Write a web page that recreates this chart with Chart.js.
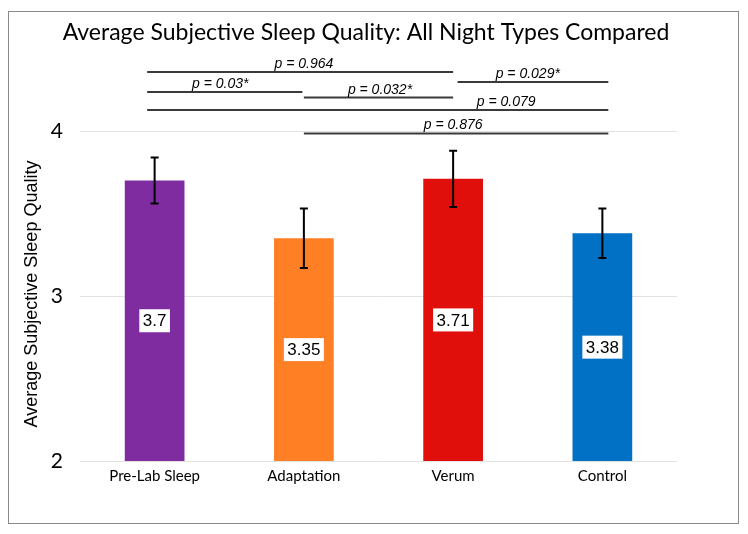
<!DOCTYPE html>
<html>
<head>
<meta charset="utf-8">
<script src="https://cdn.jsdelivr.net/npm/chart.js@4.4.0/dist/chart.umd.min.js"></script>
<style>
  html, body { margin: 0; padding: 0; background: #fff; }
  #wrap { position: relative; width: 748px; height: 534px; }
</style>
</head>
<body>
<div id="wrap"><canvas id="sleepChart" width="748" height="534"></canvas></div>
<script>
const chartTitle = 'Average Subjective Sleep Quality: All Night Types Compared';
const axisTitle = 'Average Subjective Sleep Quality';
const nightTypes = ['Pre-Lab Sleep', 'Adaptation', 'Verum', 'Control'];
const meanQuality = [3.70, 3.35, 3.71, 3.38];
const errorMargin = [0.14, 0.18, 0.17, 0.15];
const valueLabels = ['3.7', '3.35', '3.71', '3.38'];
const barColors = ['#7F2CA0', '#FE7F24', '#E00F0B', '#0071C5'];
const yTicks = [2, 3, 4];

// significance brackets: from/to/text in category positions, level in quality units
const pLabels = ['p = 0.964', 'p = 0.03*', 'p = 0.029*', 'p = 0.032*', 'p = 0.079', 'p = 0.876'];
const pFrom = [-0.05, -0.05, 2.03, 1.0, -0.05, 1.0];
const pTo = [2.0, 0.99, 3.04, 2.0, 3.04, 3.04];
const pLevel = [4.358, 4.236, 4.297, 4.203, 4.127, 3.985];
const pTextAt = [1.0, 0.44, 2.5, 1.51, 2.355, 2.0];

const overlay = {
    id: 'overlay',
    beforeDraw(chart) {
        const ctx = chart.ctx;
        ctx.save();
        ctx.strokeStyle = '#8a8a8a';
        ctx.lineWidth = 1;
        ctx.strokeRect(8.5, 11.5, 730, 512);
        ctx.restore();
    },
    afterDatasetsDraw(chart) {
        const ctx = chart.ctx;
        const y = chart.scales.y;
        const bars = chart.getDatasetMeta(0).data;
        const base = y.getPixelForValue(y.min);
        ctx.save();

        // error bars
        ctx.strokeStyle = '#000';
        ctx.lineWidth = 2;
        bars.forEach((bar, i) => {
            const top = y.getPixelForValue(meanQuality[i] + errorMargin[i]);
            const bottom = y.getPixelForValue(meanQuality[i] - errorMargin[i]);
            ctx.beginPath();
            ctx.moveTo(bar.x, top);
            ctx.lineTo(bar.x, bottom);
            ctx.moveTo(bar.x - 4, top);
            ctx.lineTo(bar.x + 4, top);
            ctx.moveTo(bar.x - 4, bottom);
            ctx.lineTo(bar.x + 4, bottom);
            ctx.stroke();
        });

        // value labels in the middle of the visible bar
        ctx.font = '17px "Liberation Sans", Arial, sans-serif';
        ctx.textAlign = 'center';
        ctx.textBaseline = 'middle';
        bars.forEach((bar, i) => {
            const cy = (bar.y + base) / 2;
            const w = ctx.measureText(valueLabels[i]).width + 7;
            ctx.fillStyle = '#fff';
            ctx.fillRect(bar.x - w / 2, cy - 11.5, w, 23);
            ctx.fillStyle = '#000';
            ctx.fillText(valueLabels[i], bar.x, cy + 1);
        });
        ctx.restore();
    },
    afterDraw(chart) {
        const ctx = chart.ctx;
        const x = chart.scales.x;
        const y = chart.scales.y;
        const x0 = x.getPixelForValue(0);
        const step = x.getPixelForValue(1) - x0;
        const catX = (pos) => x0 + pos * step;
        ctx.save();

        // chart title
        ctx.fillStyle = '#000';
        ctx.font = '23px Lato, sans-serif';
        ctx.textAlign = 'center';
        ctx.textBaseline = 'middle';
        ctx.fillText(chartTitle, 366, 33);

        // y axis title
        ctx.save();
        ctx.translate(32, (y.getPixelForValue(yTicks[0]) + y.getPixelForValue(yTicks[yTicks.length - 1])) / 2 - 2);
        ctx.rotate(-Math.PI / 2);
        ctx.font = '18px "Liberation Sans", Arial, sans-serif';
        ctx.fillText(axisTitle, 0, 0);
        ctx.restore();

        // significance brackets
        ctx.strokeStyle = '#3a3a3a';
        ctx.lineWidth = 2;
        ctx.font = 'italic 14px "Liberation Sans", Arial, sans-serif';
        ctx.textBaseline = 'alphabetic';
        pLabels.forEach((label, i) => {
            const ly = y.getPixelForValue(pLevel[i]);
            ctx.beginPath();
            ctx.moveTo(catX(pFrom[i]), ly);
            ctx.lineTo(catX(pTo[i]), ly);
            ctx.stroke();
            ctx.fillText(label, catX(pTextAt[i]), ly - 4);
        });
        ctx.restore();
    }
};

new Chart(document.getElementById('sleepChart').getContext('2d'), {
    type: 'bar',
    data: {
        labels: nightTypes,
        datasets: [{
            data: meanQuality,
            backgroundColor: barColors,
            borderWidth: 0,
            barPercentage: 0.4,
            categoryPercentage: 1.0
        }]
    },
    options: {
        responsive: false,
        animation: false,
        layout: {
            padding: { left: 22, right: 71, top: 131, bottom: 0 }
        },
        plugins: {
            legend: { display: false },
            tooltip: { enabled: false }
        },
        scales: {
            x: {
                grid: { display: false, drawTicks: false },
                border: { display: false },
                ticks: {
                    color: '#000',
                    padding: 6,
                    font: { family: 'Lato', size: 15 }
                },
                afterFit: (scale) => { scale.height = 73; }
            },
            y: {
                min: 2,
                max: 4,
                afterBuildTicks: (scale) => {
                    scale.ticks = yTicks.map(v => ({ value: v }));
                },
                grid: { color: '#e2e2e2', lineWidth: 1, drawTicks: false },
                border: { display: false },
                ticks: {
                    color: '#000',
                    padding: 17,
                    font: { family: 'Lato', size: 21 }
                },
                afterFit: (scale) => { scale.width = 58; }
            }
        }
    },
    plugins: [overlay]
});
</script>
</body>
</html>
